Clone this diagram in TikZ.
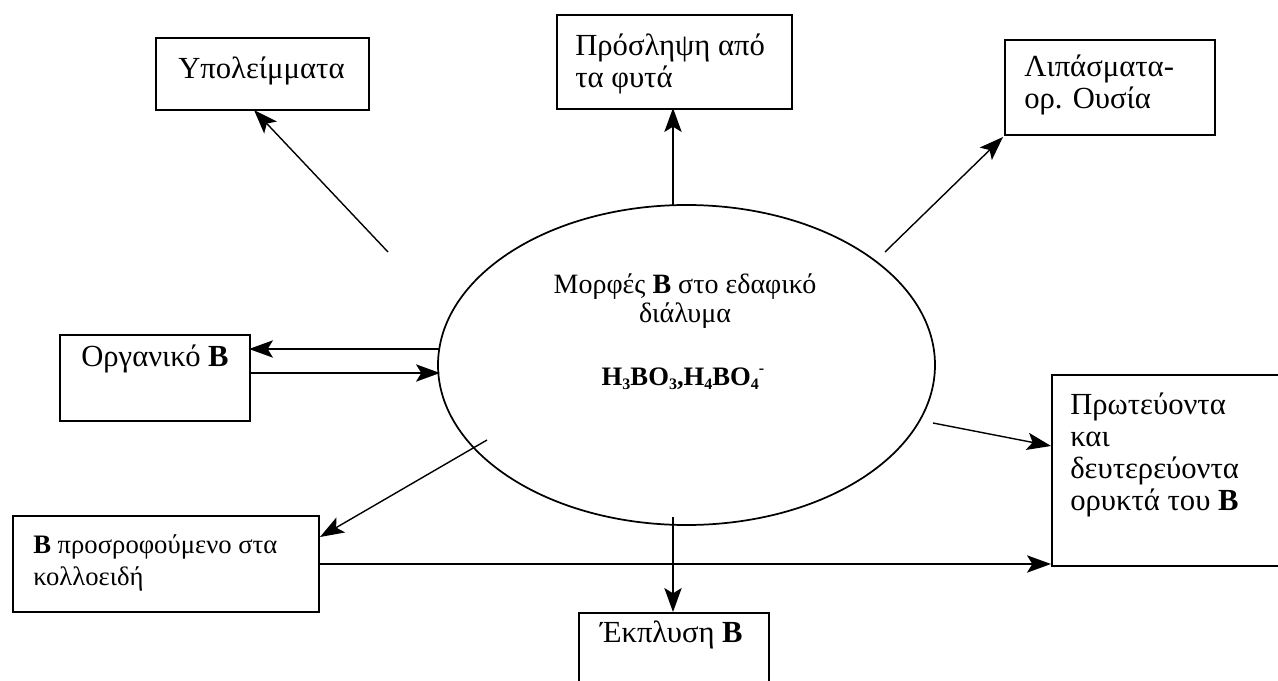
\documentclass[tikz,border=0pt]{standalone}
\usepackage{fontspec}
\setmainfont{Liberation Serif}
\usetikzlibrary{arrows.meta,shapes.geometric}
\newcommand{\subsc}[1]{\raisebox{-0.35ex}{\fontsize{12}{12}\selectfont #1}}
\newcommand{\supsc}[1]{\raisebox{0.9ex}{\fontsize{12}{12}\selectfont #1}}
\tikzset{
  box/.style={draw, line width=1.2pt, anchor=north west, inner sep=0pt},
  lbl/.style={anchor=base west, inner sep=0pt, font=\fontsize{23}{24}\selectfont, align=left},
  clbl/.style={anchor=base, inner sep=0pt, font=\fontsize{21}{23.5}\selectfont},
  arr/.style={line width=1.05pt, -{Stealth[length=18pt,width=13pt,inset=4pt]}}
}
\begin{document}
\begin{tikzpicture}[x=0.75pt,y=-0.75pt]
\useasboundingbox (0,0) rectangle (1278,681);
% ellipse
\node[draw, ellipse, line width=1.3pt, minimum width=372.75pt, minimum height=240pt, inner sep=0pt] (ell) at (686.5,365) {};
\node[clbl] (t1) at (685,293) {Μορφές \textbf{B} στο εδαφικό};
\node[clbl] (t2) at (685,322) {διάλυμα};
\node[clbl, font=\fontsize{20}{20}\selectfont\bfseries] (t3) at (683,385) {H\subsc{3}BO\subsc{3},H\subsc{4}BO\subsc{4}\supsc{-}};
% boxes
\node[box, minimum width=159.75pt, minimum height=54pt] (res) at (155,37) {};
\node[lbl] (resT) at (178,79) {Υπολείμματα};
\node[box, minimum width=176.25pt, minimum height=70.5pt] (upt) at (556,14) {};
\node[lbl] (uptT) at (575,88) {Πρόσληψη από\\τα φυτά};
\node[box, minimum width=157.5pt, minimum height=71.25pt] (fert) at (1004,39) {};
\node[lbl] (fertT) at (1024,109) {Λιπάσματα-\\ορ. Ουσία};
\node[box, minimum width=142.5pt, minimum height=64.5pt] (org) at (59,334) {};
\node[lbl] (orgT) at (81,366) {Οργανικό \textbf{B}};
\node[box, minimum width=229.5pt, minimum height=72pt] (ads) at (12,515) {};
\node[lbl, font=\fontsize{20}{24}\selectfont] (adsT) at (33,585) {\textbf{B} προσροφούμενο στα\\κολλοειδή};
\node[box, minimum width=180pt, minimum height=143.25pt] (min) at (1051,374) {};
\node[lbl] (minT) at (1070,510) {Πρωτεύοντα\\και\\δευτερεύοντα\\ορυκτά του \textbf{B}};
\node[box, minimum width=142.5pt, minimum height=60pt] (leach) at (578,612) {};
\node[lbl] (leachT) at (600,642) {Έκπλυση \textbf{B}};
% free ends
\coordinate (sRes) at (388,252);
\coordinate (eRes) at (254,110);
\coordinate (sUpt) at (673,205);
\coordinate (eUpt) at (673,108);
\coordinate (sFert) at (885,252);
\coordinate (eFert) at (1003,137);
\coordinate (oA) at (440,349);
\coordinate (oB) at (249,349);
\coordinate (oC) at (249,373);
\coordinate (oD) at (440,373);
\coordinate (sAds) at (487,440);
\coordinate (eAds) at (320,537);
\coordinate (sMin) at (933,423);
\coordinate (eMin) at (1051,446);
\coordinate (hA) at (318,564);
\coordinate (hB) at (1051,564);
\coordinate (sLe) at (673,517);
\coordinate (eLe) at (673,612);
% connectors
\draw[arr] (sRes) -- (eRes);
\draw[arr] (sUpt) -- (eUpt);
\draw[arr] (sFert) -- (eFert);
\draw[arr] (oA) -- (oB);
\draw[arr] (oC) -- (oD);
\draw[arr] (sAds) -- (eAds);
\draw[arr] (sMin) -- (eMin);
\draw[arr] (hA) -- (hB);
\draw[arr] (sLe) -- (eLe);
\end{tikzpicture}
\end{document}
